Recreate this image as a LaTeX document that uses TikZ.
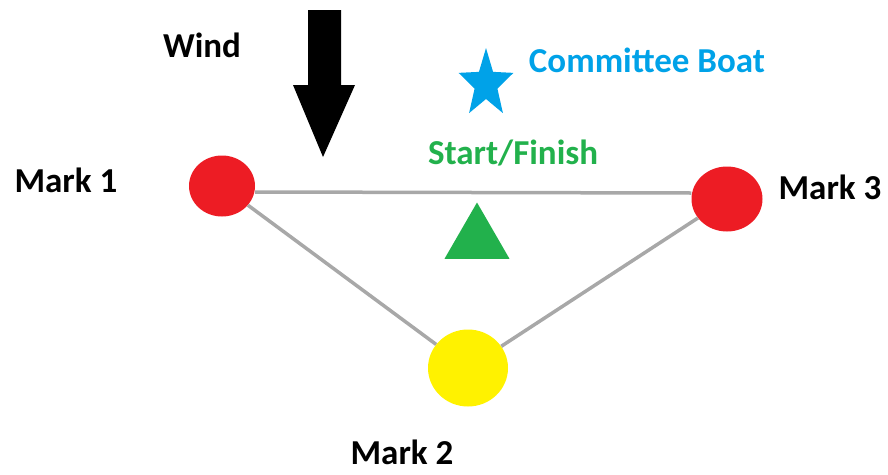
\documentclass[tikz,border=0pt]{standalone}
\usepackage{fontspec}
\setmainfont{Carlito}
\usetikzlibrary{shapes.geometric}

\definecolor{buoyred}{HTML}{ED1C24}
\definecolor{buoyyellow}{HTML}{FFF200}
\definecolor{boatblue}{HTML}{00A2E8}
\definecolor{startgreen}{HTML}{22B14C}
\definecolor{legline}{HTML}{A8A8A8}

\begin{document}
\begin{tikzpicture}[
        x=1pt, y=-1pt,
        buoy/.style={ellipse, draw=none, inner sep=0pt},
        lbl/.style={font=\fontsize{35}{40}\selectfont\bfseries, inner sep=0pt},
        leg/.style={draw=legline, line width=3.5pt}
    ]
    \useasboundingbox (0,0) rectangle (888,474);

    % Marks
    \node[buoy, fill=buoyred, minimum width=66pt, minimum height=61pt] (m1) at (222,186) {};
    \node[buoy, fill=buoyyellow, minimum width=80pt, minimum height=77pt] (m2) at (468,368) {};
    \node[buoy, fill=buoyred, minimum width=71pt, minimum height=65pt] (m3) at (727,199) {};

    % Course legs
    \draw[leg] (m1.east |- 0,192) -- (m3.west |- 0,193);
    \draw[leg] (m1) -- (m2);
    \draw[leg] (m3) -- (m2);

    % Mark labels
    \node[lbl] (l1) at (66,180) {Mark 1};
    \node[lbl] (l2) at (402,452) {Mark 2};
    \node[lbl] (l3) at (830,187) {Mark 3};

    % Wind
    \node[lbl] (wind) at (202,45) {Wind};
    \fill (308,10) -- (341,10) -- (341,85) -- (355,85) -- (323,157) -- (293,85) -- (308,85) -- cycle;

    % Committee boat
    \begin{scope}[shift={(486,84)}, xscale=0.8]
        \node[star, star points=5, star point ratio=2.4, fill=boatblue, inner sep=0pt, minimum size=72pt, transform shape] (boat) at (0,0) {};
    \end{scope}
    \node[lbl, text=boatblue] (boatl) at (647,60) {Committee Boat};

    % Start/Finish
    \node[lbl, text=startgreen] (sfl) at (513,153) {Start/Finish};
    \node[regular polygon, regular polygon sides=3, fill=startgreen, inner sep=0pt, minimum size=75pt] (sf) at (477,240) {};

\end{tikzpicture}
\end{document}
